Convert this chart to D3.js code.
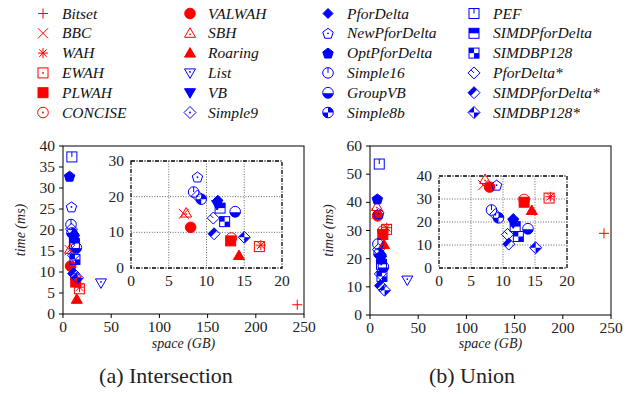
<!DOCTYPE html>
<html><head><meta charset="utf-8">
<script src="https://cdn.jsdelivr.net/npm/d3@7"></script>
</head><body style="margin:0">
<script>
// ---------- data ----------
const methods = ["Bitset","BBC","WAH","EWAH","PLWAH","CONCISE","VALWAH","SBH","Roaring","List","VB","Simple9",
  "PforDelta","NewPforDelta","OptPforDelta","Simple16","GroupVB","Simple8b","PEF","SIMDPforDelta","SIMDBP128",
  "PforDelta*","SIMDPforDelta*","SIMDBP128*"];
const redMethods = ["Bitset","BBC","WAH","EWAH","PLWAH","CONCISE","VALWAH","SBH","Roaring"];
// Intersection: space (GB), time (ms)
const interSpace = [243,7.0,17.2,17.0,13.2,13.3,7.9,7.3,14.3,39.4,11.4,8.8,11.5,8.8,6.8,8.3,13.8,9.3,9.2,11.8,12.4,10.9,11.0,15.0];
const interTime  = [2.2,15.2,6.4,6.0,7.6,8.4,11.4,15.4,3.5,7.4,17.8,20.2,19.0,25.5,32.8,21.3,15.8,19.3,37.4,16.8,13.0,14.0,9.6,8.6];
// Union
const unionSpace = [242.7,6.9,17.4,17.2,13.3,13.3,7.9,7.2,14.5,38.7,11.6,8.8,11.6,9.0,7.6,8.2,13.9,9.3,9.6,11.9,12.4,10.7,10.9,15.1];
const unionTime  = [29,36,31,30.4,28.6,29.8,35.2,38.5,25,12.4,19.6,23.2,21.5,36.0,41.2,25.2,17.1,21.8,53.6,18.0,13.7,14.6,10.4,8.8];
const xTicks = [0,50,100,150,200,250];
const interYTicks = [0,5,10,15,20,25,30,35,40];
const unionYTicks = [0,10,20,30,40,50,60];
const insetXTicks = [0,5,10,15,20];
const interInsetYTicks = [0,10,20,30];
const unionInsetYTicks = [0,10,20,30,40];

const svg=d3.select("body").append("svg").attr("width",639).attr("height",394).style("display","block");
const RED="#ff0000",BLUE="#0000ff";

function marker(g,name,x,y){
  const c = redMethods.includes(name)?RED:BLUE;
  const m = g.append("g").attr("transform",`translate(${x},${y})`);
  const s=5, sw=1;
  const dot=()=>m.append("circle").attr("r",0.9).attr("fill",c);
  const open=el=>el.attr("fill","none").attr("stroke",c).attr("stroke-width",sw);
  const fill=el=>el.attr("fill",c).attr("stroke",c).attr("stroke-width",sw);
  const line=(x1,y1,x2,y2)=>m.append("line").attr("x1",x1).attr("y1",y1).attr("x2",x2).attr("y2",y2).attr("stroke",c).attr("stroke-width",sw);
  const poly=pts=>m.append("polygon").attr("points",pts.map(p=>p.join(",")).join(" "));
  const d=6;
  const dia=[[0,-d],[d,0],[0,d],[-d,0]];
  const tri=[[0,-5.5],[5.5,4],[-5.5,4]];
  const trid=[[0,5.5],[5.5,-4],[-5.5,-4]];
  const pent=d3.range(5).map(i=>{const a=-Math.PI/2+i*2*Math.PI/5;return [5.5*Math.cos(a),5.5*Math.sin(a)+0.5];});
  switch(name){
    case "Bitset": line(-s,0,s,0); line(0,-s,0,s); break;
    case "BBC": line(-s,-s,s,s); line(-s,s,s,-s); break;
    case "WAH": line(-s,0,s,0); line(0,-s,0,s); line(-3.8,-3.8,3.8,3.8); line(-3.8,3.8,3.8,-3.8); break;
    case "EWAH": open(m.append("rect").attr("x",-s).attr("y",-s).attr("width",2*s).attr("height",2*s)); dot(); break;
    case "PLWAH": fill(m.append("rect").attr("x",-s).attr("y",-s).attr("width",2*s).attr("height",2*s)); break;
    case "CONCISE": open(m.append("circle").attr("r",5.3)); dot(); break;
    case "VALWAH": fill(m.append("circle").attr("r",5.3)); break;
    case "SBH": open(poly(tri)); m.append("circle").attr("r",0.9).attr("cy",1).attr("fill",c); break;
    case "Roaring": fill(poly(tri)); break;
    case "List": open(poly(trid)); m.append("circle").attr("r",0.9).attr("cy",-1).attr("fill",c); break;
    case "VB": fill(poly(trid)); break;
    case "Simple9": open(poly(dia)); dot(); break;
    case "PforDelta": fill(poly([[0,-5],[5,0],[0,5],[-5,0]])); break;
    case "NewPforDelta": open(poly(pent)); dot(); break;
    case "OptPforDelta": fill(poly(pent)); break;
    case "Simple16": open(m.append("circle").attr("r",5.3)); line(0,-5.3,0,0); break;
    case "GroupVB": open(m.append("circle").attr("r",5.3));
      m.append("path").attr("d","M-5.3,0.6 A5.3,5.3 0 0 0 5.3,0.6 Z").attr("fill",c); break;
    case "Simple8b": open(m.append("circle").attr("r",5.3));
      m.append("path").attr("d","M0,0 L0,-5.3 A5.3,5.3 0 0 1 5.3,0 Z M0,0 L0,5.3 A5.3,5.3 0 0 1 -5.3,0 Z").attr("fill",c); break;
    case "PEF": open(m.append("rect").attr("x",-s).attr("y",-s).attr("width",2*s).attr("height",2*s)); line(0,-s,0,0); break;
    case "SIMDPforDelta": open(m.append("rect").attr("x",-s).attr("y",-s).attr("width",2*s).attr("height",2*s));
      m.append("rect").attr("x",-s).attr("y",-s).attr("width",2*s).attr("height",s).attr("fill",c); break;
    case "SIMDBP128": open(m.append("rect").attr("x",-s).attr("y",-s).attr("width",2*s).attr("height",2*s));
      m.append("rect").attr("x",-s).attr("y",-s).attr("width",s).attr("height",s).attr("fill",c);
      m.append("rect").attr("x",0).attr("y",0).attr("width",s).attr("height",s).attr("fill",c); break;
    case "PforDelta*": open(poly(dia)); line(0,0,-d/2,-d/2); break;
    case "SIMDPforDelta*": open(poly(dia));
      poly([[0,-d],[d/2,-d/2],[-d/2,d/2],[-d,0]]).attr("fill",c); break;
    case "SIMDBP128*": open(poly(dia));
      poly([[0,-d],[0,0],[-d,0]]).attr("fill",c); poly([[0,d],[0,0],[d,0]]).attr("fill",c); break;
  }
}
function label(parent,x,y,str,size,opts){
  opts=opts||{};
  const t=parent.append("text").style("font-family","'Tinos'");
  if(opts.italic) t.style("font-style","italic");
  t.attr("x",x).attr("y",y).attr("font-size",size).attr("fill",opts.fill||"#222")
   .attr("text-anchor",opts.anchor||"start");
  if(opts.transform) t.attr("transform",opts.transform);
  t.text(str);
  return t;
}

// ---------- legend ----------
const legCols=[[43,62],[190,208],[328,347],[474,493]];
methods.forEach((nm,i)=>{
  const col=Math.floor(i/6), row=i%6;
  const y=13.5+row*19.8;
  marker(svg,nm,legCols[col][0],y);
  label(svg,legCols[col][1],y+5,nm,15.5,{italic:true,fill:"#111"});
});

// ---------- panels ----------
function panel(o){
  const x=d3.scaleLinear().domain([0,250]).range([o.l,o.r]);
  const y=d3.scaleLinear().domain([0,o.ymax]).range([o.b,o.t]);
  const g=svg.append("g");
  g.append("rect").attr("x",o.l).attr("y",o.t).attr("width",o.r-o.l).attr("height",o.b-o.t)
    .attr("fill","none").attr("stroke","#000").attr("stroke-width",1);
  xTicks.forEach(v=>{
    g.append("line").attr("x1",x(v)).attr("x2",x(v)).attr("y1",o.b).attr("y2",o.b+4).attr("stroke","#000");
    label(g,x(v),o.b+18,d3.format("d")(v),15.5,{anchor:"middle"});
  });
  o.yTicks.forEach(v=>{
    g.append("line").attr("x1",o.l-4).attr("x2",o.l).attr("y1",y(v)).attr("y2",y(v)).attr("stroke","#000");
    label(g,o.l-8,y(v)+5,d3.format("d")(v),15.5,{anchor:"end"});
  });
  methods.forEach((nm,i)=>marker(g,nm,x(o.sx[i]),y(o.sy[i])));
  const ix=d3.scaleLinear().domain([0,20]).range([o.il,o.ir]);
  const iy=d3.scaleLinear().domain([0,o.iymax]).range([o.ib,o.it]);
  const gi=svg.append("g");
  gi.append("rect").attr("x",o.il).attr("y",o.it).attr("width",o.ir-o.il).attr("height",o.ib-o.it).attr("fill","#fff");
  insetXTicks.slice(1,-1).forEach(v=>gi.append("line").attr("x1",ix(v)).attr("x2",ix(v)).attr("y1",o.it).attr("y2",o.ib)
    .attr("stroke","#555").attr("stroke-width",0.9).attr("stroke-dasharray","1,1.6"));
  o.iyTicks.slice(1,-1).forEach(v=>gi.append("line").attr("x1",o.il).attr("x2",o.ir).attr("y1",iy(v)).attr("y2",iy(v))
    .attr("stroke","#555").attr("stroke-width",0.9).attr("stroke-dasharray","1,1.6"));
  insetXTicks.forEach(v=>label(gi,ix(v),o.ib+18,d3.format("d")(v),15.5,{anchor:"middle"}));
  o.iyTicks.forEach(v=>label(gi,o.il-7,iy(v)+5,d3.format("d")(v),15.5,{anchor:"end"}));
  gi.append("rect").attr("x",o.il).attr("y",o.it).attr("width",o.ir-o.il).attr("height",o.ib-o.it)
    .attr("fill","none").attr("stroke","#000").attr("stroke-width",1.3).attr("stroke-dasharray","4,1.5,1,1.5");
  methods.forEach((nm,i)=>{
    if(o.sx[i]<=20 && o.sy[i]<=o.iymax) marker(gi,nm,ix(o.sx[i]),iy(o.sy[i]));
  });
  label(svg,(o.l+o.r)/2,348,"space (GB)",14,{italic:true,anchor:"middle"});
  label(svg,0,0,"time (ms)",14,{italic:true,anchor:"middle",transform:`translate(${o.ylx},${(o.t+o.b)/2}) rotate(-90)`});
  label(svg,o.capx,383,o.cap,22,{anchor:"middle"});
}

panel({l:63,r:304,t:146,b:314,ymax:40,yTicks:interYTicks,sx:interSpace,sy:interTime,
  il:131,ir:282,it:161,ib:268,iymax:30,iyTicks:interInsetYTicks,ylx:25,capx:166,cap:"(a) Intersection"});
panel({l:370,r:611,t:146,b:315,ymax:60,yTicks:unionYTicks,sx:unionSpace,sy:unionTime,
  il:439,ir:567,it:176,ib:268,iymax:40,iyTicks:unionInsetYTicks,ylx:333,capx:472,cap:"(b) Union"});
</script>
</body></html>
